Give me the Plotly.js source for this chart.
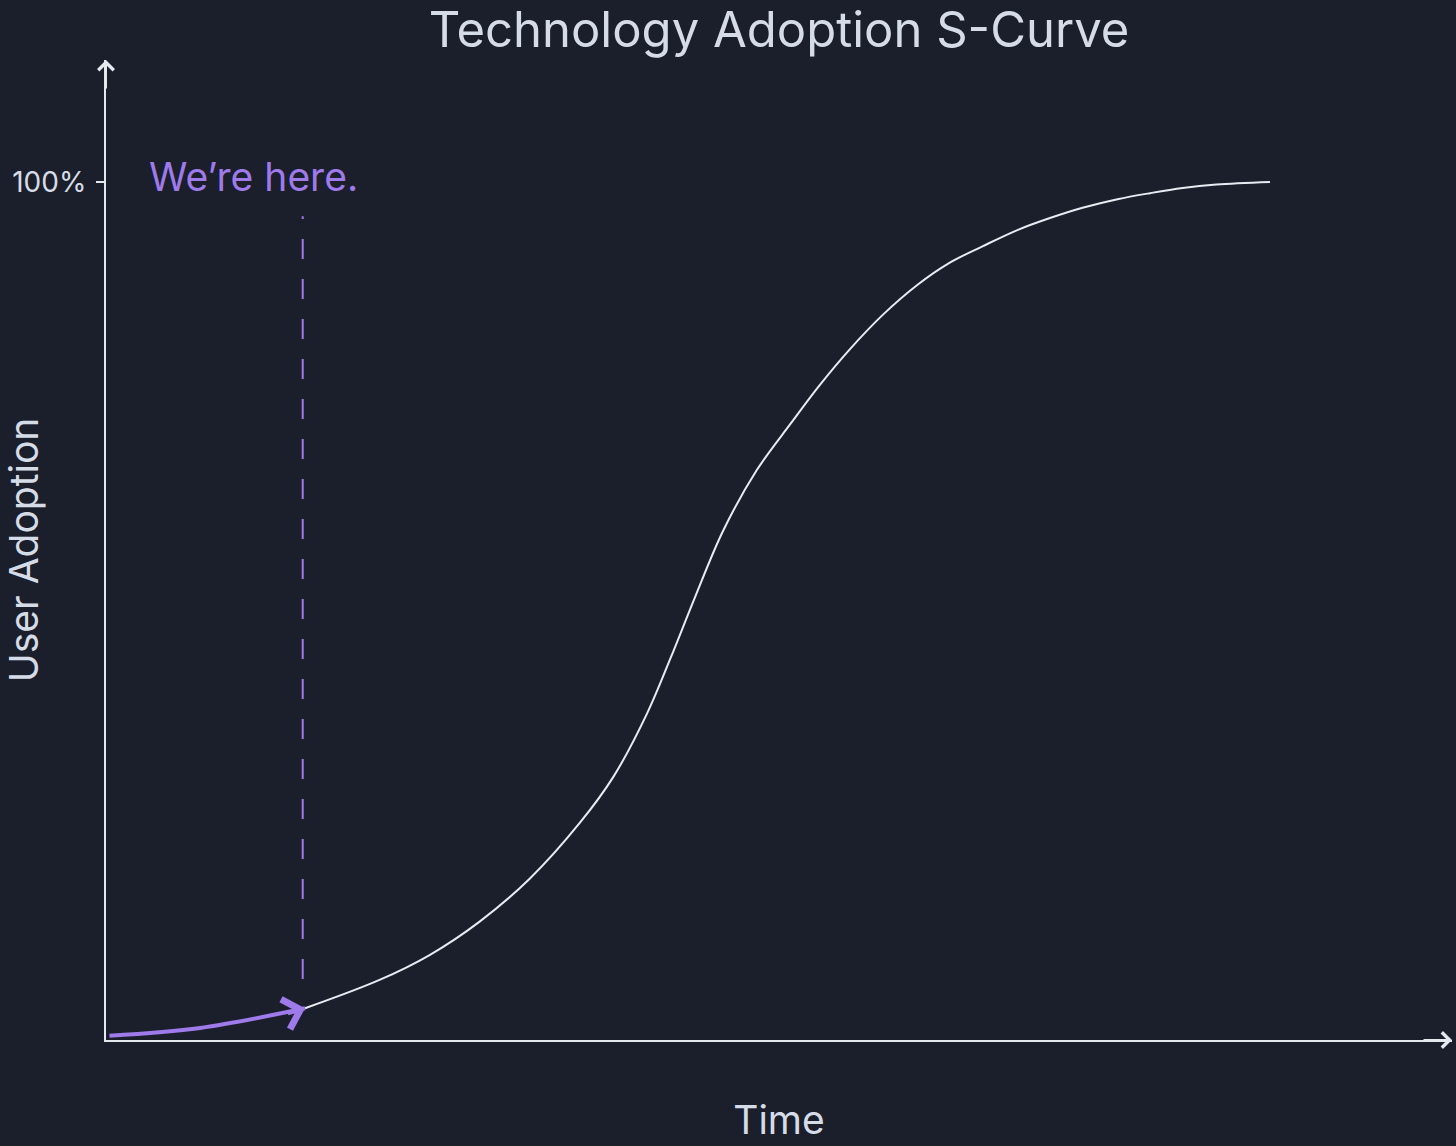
<!DOCTYPE html>
<html>
<head>
<meta charset="utf-8">
<script src="https://cdn.plot.ly/plotly-3.0.1.min.js"></script>
<style>
html,body{margin:0;padding:0;background:#1b1f2b;}
#chart{width:1456px;height:1146px;}
</style>
</head>
<body>
<div id="chart"></div>
<script>
// ---- data ----
const timeVals = [0.03, 0.81, 1.71, 2.35, 2.78, 3.21, 3.64, 4.07, 4.36, 4.65, 4.85, 5.06, 5.30, 5.59, 5.88, 6.13, 6.39, 6.68, 6.97, 7.25, 7.53, 7.83, 8.11, 8.39, 8.69, 8.97, 9.25, 9.54, 10.0];
const adoptionVals = [0.5, 1.4, 3.7, 7.0, 9.9, 13.8, 18.8, 25.3, 30.7, 38.1, 44.5, 51.6, 59.3, 66.4, 71.8, 76.3, 80.5, 84.6, 88.0, 90.6, 92.5, 94.4, 95.8, 97.0, 98.0, 98.7, 99.3, 99.7, 100];
const hereIndex = 2;               // "We're here." point on the curve
const dashTop = 96;                // top of the dashed marker line (%)
const dashBottom = 7.1;            // bottom of the dashed marker line (%)
const yTickVals = [100];
const yTickText = ['100%'];
const titleText = 'Technology Adoption S-Curve';
const xTitle = 'Time';
const yTitle = 'User Adoption';
const hereLabel = 'We\u2019re here.';

// ---- style ----
const bg = '#1b1f2b';
const fg = '#d6dce7';
const axisCol = '#e4e8ef';
const purple = '#9f7aea';
const font = 'Inter, "Noto Sans", sans-serif';

const hereX = timeVals[hereIndex];
const hereY = adoptionVals[hereIndex];

const traces = [
  {
    x: timeVals.slice(hereIndex), y: adoptionVals.slice(hereIndex),
    type: 'scatter', mode: 'lines',
    line: {color: '#e8ebf2', width: 2, shape: 'spline', smoothing: 1, simplify: false},
    hoverinfo: 'skip', showlegend: false
  },
  {
    x: timeVals.slice(0, hereIndex + 1), y: adoptionVals.slice(0, hereIndex + 1),
    type: 'scatter', mode: 'lines',
    line: {color: purple, width: 4, shape: 'spline', smoothing: 1, simplify: false},
    hoverinfo: 'skip', showlegend: false
  }
];

const layout = {
  width: 1456, height: 1146,
  paper_bgcolor: bg, plot_bgcolor: bg,
  margin: {l: 106, r: 4, t: 60, b: 106},
  font: {family: font, color: fg},
  title: {
    text: titleText, font: {family: font, size: 49, color: fg},
    x: 0.5, xref: 'paper', y: 0.974, yref: 'container', yanchor: 'middle'
  },
  xaxis: {
    range: [0, 11.564], showgrid: false, zeroline: false,
    showline: true, linecolor: axisCol, linewidth: 2,
    showticklabels: false, ticks: '',
    title: {text: xTitle, font: {family: font, size: 39, color: fg}, standoff: 66}
  },
  yaxis: {
    range: [0, 114.22], showgrid: false, zeroline: false,
    showline: true, linecolor: axisCol, linewidth: 2,
    tickvals: yTickVals, ticktext: yTickText,
    ticks: 'outside', ticklen: 8, tickwidth: 2, tickcolor: axisCol,
    ticklabelstandoff: 4,
    tickfont: {family: font, size: 28, color: fg},
    title: {text: yTitle, font: {family: font, size: 39, color: fg}, standoff: 0}
  },
  shapes: [
    {type: 'line', xref: 'x', yref: 'y', x0: hereX - 0.02, x1: hereX - 0.02, y0: dashBottom, y1: dashTop,
     line: {color: purple, width: 2, dash: '20px,20px'}}
  ],
  annotations: [
    {xref: 'x', yref: 'y', x: 0.35, y: 100.7, xanchor: 'left', yanchor: 'middle',
     text: hereLabel, showarrow: false, font: {family: font, size: 39, color: purple}},
    {xref: 'x', yref: 'y', axref: 'x', ayref: 'y', x: hereX, y: hereY, ax: hereX - 0.16, ay: hereY - 0.65,
     text: '', showarrow: true, arrowhead: 4, arrowwidth: 4, arrowsize: 1.5, arrowcolor: purple},
    {xref: 'paper', yref: 'paper', x: 0, y: 1, ax: 0, ay: 30, text: '', showarrow: true,
     arrowhead: 4, arrowwidth: 2, arrowsize: 1.5, arrowcolor: axisCol},
    {xref: 'paper', yref: 'paper', x: 1, y: 0, ax: -30, ay: 0, text: '', showarrow: true,
     arrowhead: 4, arrowwidth: 2, arrowsize: 1.5, arrowcolor: axisCol}
  ]
};

Plotly.newPlot('chart', traces, layout, {displayModeBar: false, staticPlot: true});
</script>
</body>
</html>
